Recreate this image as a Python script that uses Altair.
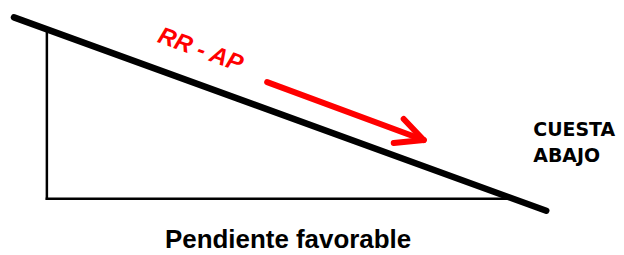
import altair as alt
import pandas as pd

# Diagram segments in page pixel coordinates
seg_names = ["slope", "vertical", "base", "arrow", "head1", "head2"]
seg_x1 = [14, 47, 47, 268, 425, 425]
seg_y1 = [17, 31, 199, 82, 140, 140]
seg_x2 = [548, 47, 510, 425, 405, 395]
seg_y2 = [211, 199, 199, 140, 119, 143]

label_text = ["RR - AP", "CUESTA", "ABAJO", "Pendiente favorable"]
label_x = [201, 535, 535, 289]
label_y = [50, 130, 156, 240]

segs = pd.DataFrame({
    "name": seg_names, "x": seg_x1, "y": seg_y1, "x2": seg_x2, "y2": seg_y2,
})

xs = alt.Scale(domain=[8, 616], nice=False, zero=False)
ys = alt.Scale(domain=[247, 8], nice=False, zero=False)

def seg_layer(names, width, color, cap="round"):
    d = segs[segs["name"].isin(names)]
    return alt.Chart(d).mark_rule(strokeWidth=width, color=color, strokeCap=cap).encode(
        x=alt.X("x:Q", scale=xs, axis=None),
        y=alt.Y("y:Q", scale=ys, axis=None),
        x2="x2:Q", y2="y2:Q",
    )

thin = seg_layer(["vertical", "base"], 2.5, "black", "square")
slope = seg_layer(["slope"], 6.5, "black")
arrow = seg_layer(["arrow", "head1", "head2"], 6, "#ff0000")

labels = pd.DataFrame({"t": label_text, "x": label_x, "y": label_y})

def text_layer(i, font="Liberation Sans", **kw):
    d = labels.iloc[[i]]
    return alt.Chart(d).mark_text(font=font, fontWeight="bold", **kw).encode(
        x=alt.X("x:Q", scale=xs, axis=None), y=alt.Y("y:Q", scale=ys, axis=None), text="t:N")

rr = text_layer(0, fontSize=24, color="#ff0000", angle=20, fontStyle="italic", align="center", baseline="middle")
c1 = text_layer(1, font="DejaVu Sans", fontSize=19, color="black", align="left", baseline="middle")
c2 = text_layer(2, font="DejaVu Sans", fontSize=19, color="black", align="left", baseline="middle")
title = text_layer(3, fontSize=26, color="black", align="center", baseline="middle")

chart = alt.layer(thin, slope, arrow, rr, c1, c2, title).properties(
    width=608, height=239, padding=0, background="white"
).configure_view(stroke=None)

chart.save("out.html", embed_options={"renderer": "svg", "actions": False})
